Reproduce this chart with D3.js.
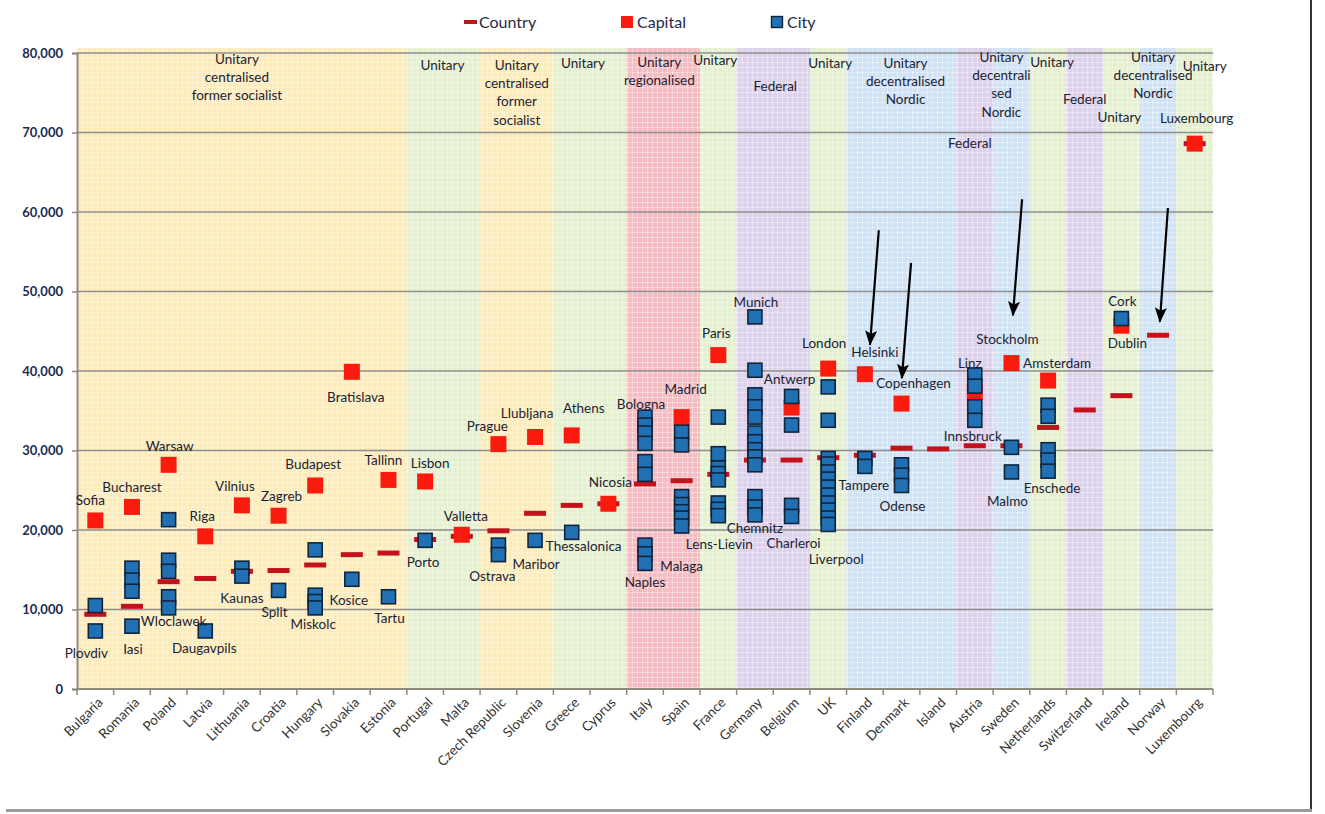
<!DOCTYPE html>
<html>
<head>
<meta charset="utf-8">
<script src="https://cdn.jsdelivr.net/npm/d3@7"></script>
<style>
  body { margin: 0; background: #fff; }
  svg text { font-family: Lato, "Open Sans", sans-serif; }
</style>
</head>
<body>
<svg id="chart" width="1325" height="814"></svg>
<script>
// ---- data ----
var countries = ["Bulgaria","Romania","Poland","Latvia","Lithuania","Croatia","Hungary","Slovakia","Estonia",
  "Portugal","Malta","Czech Republic","Slovenia","Greece","Cyprus","Italy","Spain","France","Germany","Belgium",
  "UK","Finland","Denmark","Island","Austria","Sweden","Netherlands","Switzerland","Ireland","Norway","Luxembourg"];

var countryValues = [9400,10400,13500,13900,14800,14900,15600,16900,17100,
  18800,19200,19900,22100,23100,23300,25800,26200,27000,28800,28800,
  29100,29400,30300,30200,30600,30600,32900,35100,36900,44500,68600];

var capitalValues = [21200,22900,28200,19200,23100,21800,25600,39900,26300,
  26100,19400,30800,31700,31900,23300,33000,34200,42000,22900,35400,
  40300,39600,35900,null,37400,41000,38800,null,45700,null,68600];

var cityValues = [
  [10500,7300],
  [15200,13700,12300,7900],
  [21300,16200,14800,11600,10200],
  [7300],
  [15200,14200],
  [12400],
  [17500,11800,11000,10200],
  [13800],
  [11600],
  [18700],
  [],
  [18100,16900],
  [18700],
  [19700],
  [],
  [34200,33200,32200,30900,28600,27000,18100,17000,15800],
  [32300,30700,24200,23200,22300,21500,20500],
  [34200,29600,27800,27100,26300,23400,22600,21800],
  [46800,40100,37000,35500,34200,32200,31100,30100,29200,28200,24200,22900,21900],
  [36800,33200,23100,21700],
  [38000,33800,29000,28300,27300,26400,25400,24400,23400,22500,21500,20700],
  [29000,28000],
  [28200,26900,25600],
  [],
  [39500,38100,35500,33800],
  [30400,27300],
  [35700,34300,30100,28800,27400],
  [],
  [46600],
  [],
  []
];

// country ranges of state type (first index, last index)
var groupRanges = [[0,8],[9,10],[11,12],[13,14],[15,16],[17,17],[18,19],[20,20],[21,23],[24,24],[25,25],[26,26],[27,27],[28,28],[29,29],[30,30]];
var groupTypes = ["socialist","unitary","socialist","unitary","regional","unitary","federal","unitary","nordic","federal","nordic","unitary","federal","unitary","nordic","unitary"];
var groupTexts = [
  ["Unitary","centralised","former socialist"],
  ["Unitary"],
  ["Unitary","centralised","former","socialist"],
  ["Unitary"],
  ["Unitary","regionalised"],
  ["Unitary"],
  ["Federal"],
  ["Unitary"],
  ["Unitary","decentralised","Nordic"],
  ["Federal"],
  ["Unitary","decentrali","sed","Nordic"],
  ["Unitary"],
  ["Federal"],
  ["Unitary"],
  ["Unitary","decentralised","Nordic"],
  ["Unitary"]
];

// city / capital labels: name, country, value of the mark it belongs to
var labelNames = ["Sofia","Plovdiv","Bucharest","Iasi","Warsaw","Wloclawek","Riga","Daugavpils","Vilnius","Kaunas",
  "Zagreb","Split","Budapest","Miskolc","Bratislava","Kosice","Tallinn","Tartu","Lisbon","Porto",
  "Valletta","Prague","Ostrava","Llubljana","Maribor","Athens","Thessalonica","Nicosia","Bologna","Naples",
  "Madrid","Malaga","Paris","Lens-Lievin","Munich","Chemnitz","Antwerp","Charleroi","London","Liverpool",
  "Helsinki","Tampere","Copenhagen","Odense","Linz","Innsbruck","Stockholm","Malmo","Amsterdam","Enschede",
  "Cork","Dublin","Luxembourg"];
var labelCountry = [0,0,1,1,2,2,3,3,4,4, 5,5,6,6,7,7,8,8,9,9, 10,11,11,12,12,13,13,14,15,15,
  16,16,17,17,18,18,19,19,20,20, 21,21,22,22,24,24,25,25,26,26, 28,28,30];
var labelValue = [21200,7300,22900,7900,28200,10200,19200,7300,23100,14200,
  21800,12400,25600,10200,39900,13800,26300,11600,26100,18700,
  19400,30800,16900,31700,18700,31900,19700,23300,34200,15800,
  34200,20500,42000,21800,46800,21900,36800,21700,40300,20700,
  39600,28000,35900,25600,39500,33800,41000,27300,38800,27400,
  46600,45700,68600];

// arrows: country, start value, end value
var arrowCountry = [21,22,25,29];
var arrowFrom = [57700,53600,61600,60500];
var arrowTo = [43300,39100,47000,46200];

var yTicks = [0,10000,20000,30000,40000,50000,60000,70000,80000];

// ---- layout ----
var svg = d3.select("#chart");
var margin = {left: 77, right: 112, top: 53, bottom: 125};
var W = 1325, H = 814;
var plotRight = W - margin.right, plotBottom = H - margin.bottom;

var x = d3.scaleBand().domain(d3.range(countries.length)).range([margin.left, plotRight]).padding(0);
var y = d3.scaleLinear().domain([0, 80000]).range([plotBottom, margin.top]);
var cx = function(i) { return x(i) + x.bandwidth() / 2; };

var bandColors = {socialist: "#fcebbb", unitary: "#e5f0d1", regional: "#f5bdc3", federal: "#ddd1ec", nordic: "#d0e3f4"};

// dotted fill like the original
var defs = svg.append("defs");
Object.keys(bandColors).forEach(function(k) {
  var p = defs.append("pattern").attr("id", "pat-" + k)
    .attr("width", 5).attr("height", 5).attr("patternUnits", "userSpaceOnUse");
  p.append("rect").attr("width", 5).attr("height", 5).attr("fill", bandColors[k]);
  p.append("rect").attr("x", 0).attr("y", 2).attr("width", 5).attr("height", 1).attr("fill", "#fff").attr("opacity", 0.3);
  p.append("rect").attr("x", 2).attr("y", 0).attr("width", 1).attr("height", 5).attr("fill", "#fff").attr("opacity", 0.3);
  p.append("rect").attr("x", 2).attr("y", 2).attr("width", 1).attr("height", 1).attr("fill", "#fff").attr("opacity", 0.6);
});
defs.append("marker").attr("id", "arrowhead")
  .attr("viewBox", "0 0 15 12").attr("refX", 14).attr("refY", 6)
  .attr("markerWidth", 15).attr("markerHeight", 12)
  .attr("markerUnits", "userSpaceOnUse").attr("orient", "auto")
  .append("path").attr("d", "M0,0 L15,6 L0,12 L3,6 Z").attr("fill", "#000");

// background bands
svg.append("g").selectAll("rect").data(groupRanges).enter().append("rect")
  .attr("x", function(d) { return x(d[0]); })
  .attr("width", function(d) { return x(d[1]) + x.bandwidth() - x(d[0]); })
  .attr("y", margin.top - 5)
  .attr("height", plotBottom - margin.top + 5)
  .attr("fill", function(d, i) { return "url(#pat-" + groupTypes[i] + ")"; });

// gridlines
svg.append("g").selectAll("line").data(yTicks.slice(1)).enter().append("line")
  .attr("x1", margin.left).attr("x2", plotRight)
  .attr("y1", function(d) { return y(d); }).attr("y2", function(d) { return y(d); })
  .attr("stroke", "#8e8e8e").attr("stroke-width", 1.5);

// y axis
var yAxis = d3.axisLeft(y).tickValues(yTicks).tickSize(5).tickFormat(d3.format(","));
var yG = svg.append("g").attr("transform", "translate(" + margin.left + ",0)").call(yAxis);
yG.select(".domain").attr("stroke", "#8f8a7c").attr("stroke-width", 2);
yG.selectAll(".tick line").attr("stroke", "#8f8a7c").attr("stroke-width", 1.5);
yG.selectAll(".tick text").attr("x", -14).attr("fill", "#1a2b4f")
  .style("font-size", "13px").style("font-weight", "bold").style("font-family", "Lato, sans-serif");

// x axis: ticks at band edges, labels rotated
var xG = svg.append("g").attr("transform", "translate(0," + plotBottom + ")");
xG.append("line").attr("x1", margin.left).attr("x2", plotRight).attr("stroke", "#8f8a7c").attr("stroke-width", 2);
xG.selectAll("line.tk").data(d3.range(countries.length + 1)).enter().append("line").attr("class", "tk")
  .attr("x1", function(i) { return margin.left + i * x.bandwidth(); })
  .attr("x2", function(i) { return margin.left + i * x.bandwidth(); })
  .attr("y1", 0).attr("y2", 6).attr("stroke", "#8f8a7c").attr("stroke-width", 1.5);
xG.selectAll("text").data(countries).enter().append("text")
  .attr("transform", function(d, i) { return "translate(" + (cx(i) + 5) + ",11) rotate(-45)"; })
  .attr("text-anchor", "end").attr("dy", "0.35em")
  .style("font-size", "13.5px").attr("fill", "#333")
  .text(function(d) { return d; });

// group labels
var groupLabelDx = [-5,-1,0,-7,-4,-3,2,2,4,-5,-10,4,0,-2,-5,10];
var groupLabelY = [59,65,65,63,62,60,86,63,63,143,57,62,99,117,57,66];
var gl = svg.append("g");
groupRanges.forEach(function(r, gi) {
  var gx = (x(r[0]) + x(r[1]) + x.bandwidth()) / 2 + groupLabelDx[gi];
  gl.selectAll(null).data(groupTexts[gi]).enter().append("text")
    .attr("x", gx).attr("y", function(d, j) { return groupLabelY[gi] + j * 18.3; })
    .attr("dy", "0.35em").attr("text-anchor", "middle")
    .style("font-size", "13.5px").attr("fill", "#1b2232")
    .text(function(d) { return d; });
});

// country dashes
svg.append("g").selectAll("rect").data(countryValues).enter().append("rect")
  .attr("x", function(d, i) { return cx(i) - 11; })
  .attr("y", function(d) { return y(d) - 2.5; })
  .attr("width", 22).attr("height", 5).attr("fill", "#c4121d");

// capitals
var capData = capitalValues.map(function(v, i) { return {i: i, v: v}; }).filter(function(d) { return d.v != null; });
svg.append("g").selectAll("rect").data(capData).enter().append("rect")
  .attr("x", function(d) { return cx(d.i) - 8; })
  .attr("y", function(d) { return y(d.v) - 8; })
  .attr("width", 16).attr("height", 16).attr("fill", "#fb1b0e");

// cities
var cityData = [];
cityValues.forEach(function(arr, i) { arr.forEach(function(v) { cityData.push({i: i, v: v}); }); });
svg.append("g").selectAll("rect").data(cityData).enter().append("rect")
  .attr("x", function(d) { return cx(d.i) - 7; })
  .attr("y", function(d) { return y(d.v) - 7; })
  .attr("width", 14).attr("height", 14)
  .attr("fill", "#2170b4").attr("stroke", "#10243c").attr("stroke-width", 1.6);

// city labels (offsets in px from the mark)
var labelDx = [-5,-9,0,1,1,5,-3,-1,-7,0, 3,-4,-2,-2,4,-3,-5,1,5,-2, 4,-11,-6,-8,1,12,12,2,-4,0,
  4,0,-2,1,1,0,-2,2,-4,8, 10,-1,12,1,-5,-2,-4,-4,9,4, 1,6,2];
var labelDy = [-20,22,-20,23,-19,13,-20,17,-19,22, -19,22,-21,16,25,21,-20,21,-18,22, -18,-18,22,-24,24,-27,14,-21,-13,19,
  -28,40,-22,29,-15,13,-17,27,-25,35, -22,19,-20,21,-12,16,-24,29,-17,17, -17,18,-25];
svg.append("g").selectAll("text").data(labelNames).enter().append("text")
  .attr("x", function(d, k) { return cx(labelCountry[k]) + labelDx[k]; })
  .attr("y", function(d, k) { return y(labelValue[k]) + labelDy[k]; })
  .attr("dy", "0.35em").attr("text-anchor", "middle")
  .style("font-size", "13.5px").attr("fill", "#1b2232")
  .text(function(d) { return d; });

// arrows
var arrowDx1 = [0.38,0.26,0.29,0.27], arrowDx2 = [0.14,0.01,0.04,0.05];
svg.append("g").selectAll("line").data(arrowCountry).enter().append("line")
  .attr("x1", function(c, k) { return cx(c) + arrowDx1[k] * x.bandwidth(); })
  .attr("y1", function(c, k) { return y(arrowFrom[k]); })
  .attr("x2", function(c, k) { return cx(c) + arrowDx2[k] * x.bandwidth(); })
  .attr("y2", function(c, k) { return y(arrowTo[k]); })
  .attr("stroke", "#000").attr("stroke-width", 2.2)
  .attr("marker-end", "url(#arrowhead)");

// legend
var lg = svg.append("g").attr("transform", "translate(0,22)");
lg.append("rect").attr("x", 464).attr("y", -2).attr("width", 13).attr("height", 4).attr("fill", "#c4121d");
lg.append("text").attr("x", 479).attr("dy", "0.35em").text("Country");
lg.append("rect").attr("x", 621).attr("y", -6).attr("width", 12).attr("height", 12).attr("fill", "#fb1b0e");
lg.append("text").attr("x", 637).attr("dy", "0.35em").text("Capital");
lg.append("rect").attr("x", 771.5).attr("y", -5.5).attr("width", 11).attr("height", 11)
  .attr("fill", "#2170b4").attr("stroke", "#10243c").attr("stroke-width", 1.4);
lg.append("text").attr("x", 787).attr("dy", "0.35em").text("City");
lg.selectAll("text").style("font-size", "16px").attr("fill", "#1f2a44");

// frame
svg.append("line").attr("x1", 1311).attr("x2", 1311).attr("y1", 0).attr("y2", 811)
  .attr("stroke", "#333").attr("stroke-width", 2);
svg.append("line").attr("x1", 6).attr("x2", 1312).attr("y1", 810.5).attr("y2", 810.5)
  .attr("stroke", "#9a9a9a").attr("stroke-width", 3);
</script>
</body>
</html>
